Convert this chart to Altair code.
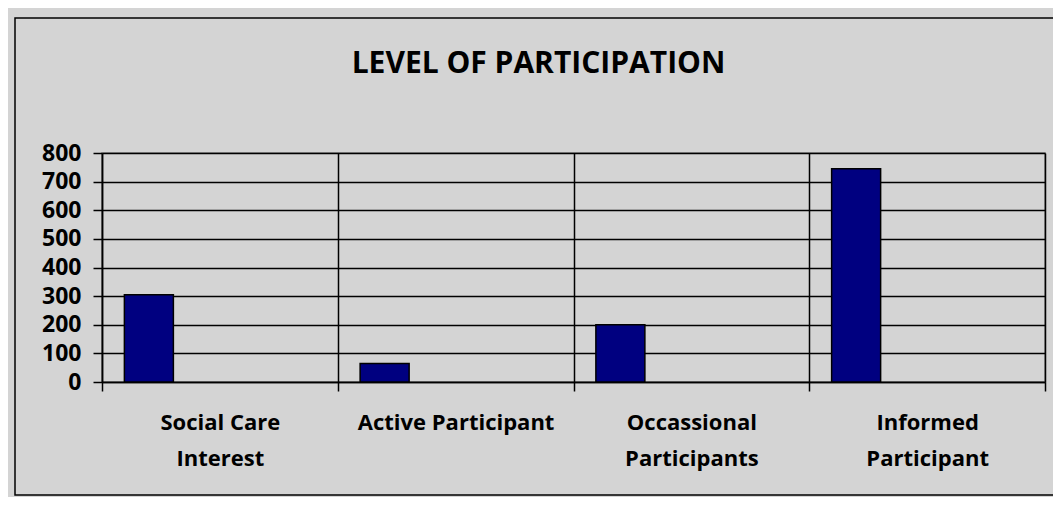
import altair as alt
import pandas as pd

# ---- data ----
categories = ["Social  Care\nInterest", "Active Participant",
              "Occassional\nParticipants", "Informed\nParticipant"]
values = [305, 65, 200, 745]
y_ticks = [0, 100, 200, 300, 400, 500, 600, 700, 800]
title_text = "LEVEL OF PARTICIPATION"

df = pd.DataFrame({"category": categories, "value": values})

FONT = "Open Sans"
W, H = 943, 229

bars = alt.Chart(df).mark_bar(
    color="#000080", stroke="#000000", strokeWidth=1.5, width=49, xOffset=-71
).encode(
    x=alt.X(
        "category:N", sort=categories,
        scale=alt.Scale(paddingInner=0, paddingOuter=0),
        axis=alt.Axis(
            title=None, labelAngle=0,
            labelExpr="split(datum.label, '\\n')",
            labelFont=FONT, labelFontSize=22, labelFontWeight="bold",
            labelColor="black", labelLineHeight=36, labelPadding=21,
            labelLimit=400,
            tickBand="extent", tickSize=9, tickColor="black", tickWidth=1.5,
            grid=True, gridColor="black", gridWidth=1.5,
            domain=True, domainColor="black", domainWidth=1.5,
        ),
    ),
    y=alt.Y(
        "value:Q",
        scale=alt.Scale(domain=[0, 800]),
        axis=alt.Axis(
            title=None, values=y_ticks,
            labelFont=FONT, labelFontSize=23, labelFontWeight="bold",
            labelColor="black", labelPadding=12,
            tickSize=9, tickColor="black", tickWidth=1.5,
            grid=True, gridColor="black", gridWidth=1.5,
            domain=True, domainColor="black", domainWidth=1.5,
        ),
    ),
)

border = alt.Chart(pd.DataFrame({"k": [0]})).mark_rect(
    fillOpacity=0, stroke="black", strokeWidth=1.5
).encode(
    x=alt.value(-87), x2=alt.value(1000),
    y=alt.value(-135), y2=alt.value(342),
)

chart = alt.layer(bars, border).properties(
    width=W, height=H,
    title=alt.TitleParams(
        text=title_text, font=FONT, fontSize=30, fontWeight="bold",
        color="black", anchor="middle", dx=-35, offset=-86,
        baseline="alphabetic",
    ),
    autosize=alt.AutoSizeParams(type="none"),
    padding={"left": 94, "top": 145, "right": 8, "bottom": 115},
    background="#d4d4d4",
).configure_view(stroke="#808080", strokeWidth=1.5)

chart.save("out.html", embed_options={"renderer": "svg", "actions": False})
